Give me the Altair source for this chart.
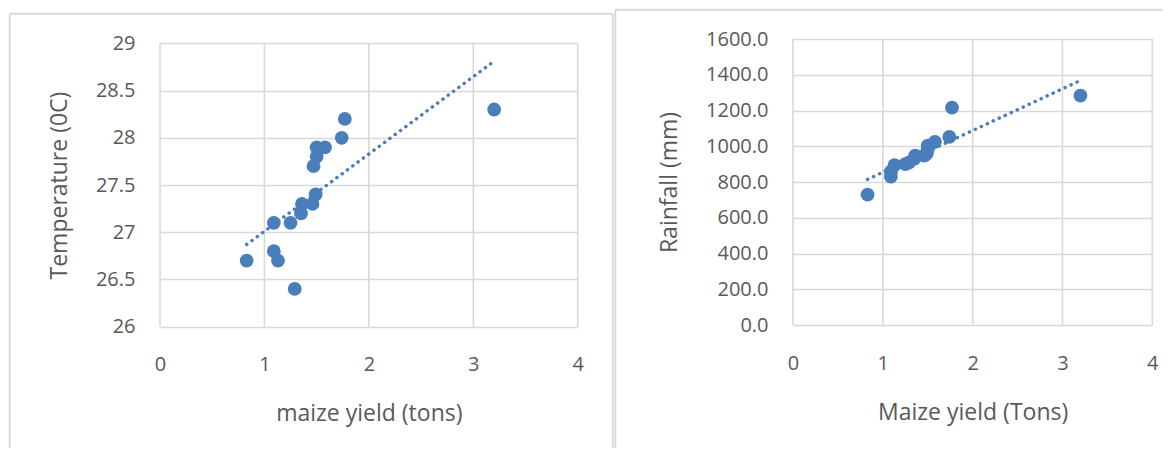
import altair as alt
import pandas as pd

# ---- data ----
yield_tons = [0.83, 1.09, 1.13, 1.29, 1.09, 1.25, 1.35, 1.36, 1.46, 1.49, 1.47, 1.50, 1.50, 1.58, 1.74, 1.77, 3.20]
temperature = [26.7, 26.8, 26.7, 26.4, 27.1, 27.1, 27.2, 27.3, 27.3, 27.4, 27.7, 27.8, 27.9, 27.9, 28.0, 28.2, 28.3]
rainfall = [729, 830, 895, 908, 858, 900, 930, 947, 947, 960, 950, 1003, 985, 1025, 1052, 1216, 1283]

x_ticks = [0, 1, 2, 3, 4]
temp_ticks = [26, 26.5, 27, 27.5, 28, 28.5, 29]
rain_ticks = [0, 200, 400, 600, 800, 1000, 1200, 1400, 1600]

df = pd.DataFrame({"yield": yield_tons, "temp": temperature, "rain": rainfall})

BLUE = "#4a7ebb"
GRID = "#d9d9d9"
TEXT = "#595959"
FONT = "Open Sans"


def panel(ycol, ydomain, yticks, yfmt, width, height, ytop, xtitle, ytitle, frame):
    xscale = alt.Scale(domain=[0, 4], nice=False, zero=False)
    yscale = alt.Scale(domain=ydomain, nice=False, zero=False, range=[height, ytop])
    xaxis = alt.Axis(title=xtitle, values=x_ticks, format="d", grid=False,
                     domain=False, ticks=False, labelPadding=28, titlePadding=28,
                     labelFlush=False)
    yaxis = alt.Axis(title=ytitle, values=yticks, format=yfmt, grid=True,
                     gridColor=GRID, gridWidth=1.6, domain=False, ticks=False,
                     labelPadding=25, titlePadding=24, labelFlush=False)

    grid_x = alt.Chart(pd.DataFrame({"yield": x_ticks})).mark_rule(
        color=GRID, strokeWidth=1.6
    ).encode(
        x=alt.X("yield:Q", scale=xscale, axis=xaxis),
        y=alt.value(ytop),
        y2=alt.value(height),
    )

    base = alt.Chart(df)
    pts = base.mark_circle(size=190, color=BLUE, opacity=1).encode(
        x=alt.X("yield:Q", scale=xscale, axis=xaxis),
        y=alt.Y(f"{ycol}:Q", scale=yscale, axis=yaxis),
    )
    trend = base.transform_regression("yield", ycol).mark_line(
        color=BLUE, strokeDash=[0.1, 6.5], strokeCap="round", strokeWidth=3.5
    ).encode(
        x=alt.X("yield:Q", scale=xscale, axis=xaxis),
        y=alt.Y(f"{ycol}:Q", scale=yscale, axis=yaxis),
    )
    # panel frame: list of edges (x1, x2, y1, y2) in pixel units
    edges = []
    for (a, b, c, d) in frame:
        edges.append(
            alt.Chart(pd.DataFrame({"a": [0]})).mark_rule(
                stroke=GRID, strokeWidth=2
            ).encode(x=alt.value(a), x2=alt.value(b), y=alt.value(c), y2=alt.value(d))
        )
    return alt.layer(*edges, grid_x, pts, trend).properties(width=width, height=height)


BOTTOM = 409
left = panel("temp", [26, 29], temp_ticks, "~g", 417.7, 287.7, 4.4,
             "maize yield (tons)", "Temperature (0C)",
             [(-150.3, -150.3, -25.3, BOTTOM),
              (-150.3, 452.7, -25.3, -25.3),
              (452.7, 452.7, -25.3, BOTTOM)])
right = panel("rain", [0, 1600], rain_ticks, ".1f", 359.3, 286, 0,
              "Maize yield (Tons)", "Rainfall (mm)",
              [(-177.7, -177.7, -29.3, BOTTOM),
               (-177.7, 370, -29.3, -29.3)])

chart = alt.hconcat(left, right, spacing=0).properties(padding=0).configure_view(
    strokeWidth=0
).configure_axis(
    labelFont=FONT, titleFont=FONT, labelFontSize=20, titleFontSize=23,
    labelColor=TEXT, titleColor=TEXT, titleFontWeight="normal"
)

chart.save("out.html", embed_options={"renderer": "svg", "actions": False})
